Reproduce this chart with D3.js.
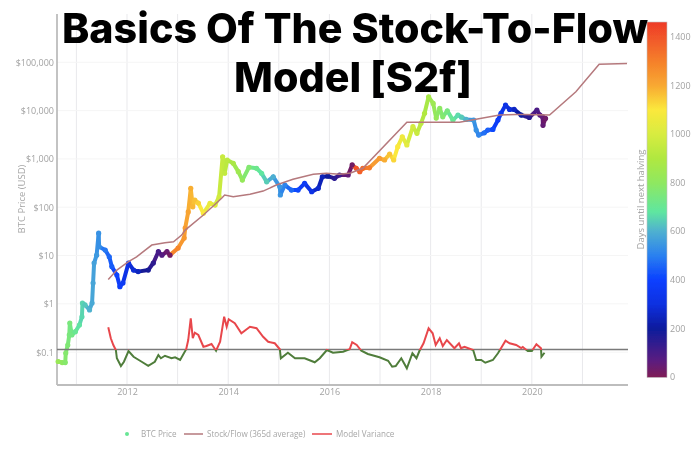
<!DOCTYPE html>
<html><head><meta charset="utf-8">
<script src="https://cdnjs.cloudflare.com/ajax/libs/d3/7.8.5/d3.min.js"></script>
<style>html,body{margin:0;padding:0;background:#fff}svg{display:block}</style>
</head><body><svg id="c" width="700" height="450"></svg>
<script>
const titleLines = ["Basics Of The Stock-To-Flow", "Model [S2f]"];
const yearTicks = [2012, 2014, 2016, 2018, 2020];
const gridYears = [2011, 2012, 2013, 2014, 2015, 2016, 2017, 2018, 2019, 2020, 2021];
const priceTicks = [0.1, 1, 10, 100, 1000, 10000, 100000];
const colorTicks = [0, 200, 400, 600, 800, 1000, 1200, 1400];
const halvingYears = [2012.91, 2016.52, 2020.36];
const legendLabels = ["BTC Price", "Stock/Flow (365d average)", "Model Variance"];

const btcYears = [2010.64,2010.72,2010.78,2010.79,2010.83,2010.86,2010.87,2010.91,2010.98,2011.06,2011.11,2011.12,2011.17,2011.26,2011.31,2011.33,2011.35,2011.40,2011.44,2011.45,2011.57,2011.65,2011.70,2011.80,2011.86,2011.92,2012.03,2012.13,2012.22,2012.42,2012.52,2012.62,2012.69,2012.79,2012.85,2013.01,2013.13,2013.15,2013.21,2013.26,2013.30,2013.34,2013.41,2013.51,2013.64,2013.74,2013.82,2013.89,2013.93,2013.98,2014.10,2014.20,2014.28,2014.41,2014.56,2014.66,2014.76,2014.89,2015.02,2015.03,2015.12,2015.25,2015.38,2015.51,2015.65,2015.78,2015.86,2015.97,2016.10,2016.20,2016.37,2016.45,2016.53,2016.60,2016.66,2016.79,2016.99,2017.09,2017.19,2017.27,2017.35,2017.44,2017.53,2017.65,2017.73,2017.81,2017.88,2017.96,2018.05,2018.11,2018.18,2018.24,2018.33,2018.44,2018.54,2018.61,2018.70,2018.85,2018.90,2018.95,2019.06,2019.13,2019.23,2019.33,2019.39,2019.48,2019.56,2019.65,2019.79,2019.95,2020.10,2020.16,2020.21,2020.22,2020.27];
const btcPrices = [0.064,0.061,0.061,0.096,0.14,0.227,0.40,0.227,0.265,0.365,0.54,1.04,0.95,0.75,1.04,2.7,7.0,10.2,29,15.2,13,9.4,5.9,3.96,2.27,2.7,7.0,5.0,4.65,5.0,7.0,12,10.2,12,10.2,14.3,23,37,80,246,102,141,122,75,120,111,165,1110,505,950,810,545,365,670,640,505,335,428,265,179,288,227,227,312,209,246,428,440,396,465,465,750,640,545,640,655,1030,950,1260,950,1790,2880,1940,4650,3380,5460,8800,19300,14100,7000,11100,7440,9900,6360,8070,7330,6570,6360,3950,3110,3470,3950,4080,6360,8770,13000,10600,10600,8070,7200,10200,8070,7500,4950,6900];

const s2fYears = [2011.63,2011.80,2012.03,2012.19,2012.36,2012.49,2012.75,2012.92,2013.08,2013.15,2013.51,2013.87,2013.93,2014.10,2014.43,2014.69,2014.95,2015.28,2015.68,2015.94,2016.20,2016.42,2016.66,2017.53,2018.57,2018.87,2019.36,2019.69,2020.35,2020.87,2021.33,2021.88];
const s2fValues = [3.2,5.0,7.5,9.4,13,16.5,18.4,19.3,26.5,33.7,69,153,179,165,185,216,288,378,480,505,480,510,640,5730,5730,6570,8070,8350,8070,24500,91000,94000];

const varYears = [2011.63,2011.68,2011.73,2011.78,2011.80,2011.88,2011.94,2012.03,2012.13,2012.29,2012.42,2012.55,2012.62,2012.67,2012.75,2012.88,2012.95,2013.05,2013.17,2013.21,2013.26,2013.30,2013.34,2013.41,2013.51,2013.57,2013.67,2013.76,2013.84,2013.92,2013.97,2014.01,2014.13,2014.26,2014.43,2014.56,2014.69,2014.79,2014.92,2015.02,2015.04,2015.18,2015.32,2015.51,2015.71,2015.81,2015.95,2016.07,2016.27,2016.40,2016.45,2016.54,2016.63,2016.76,2016.99,2017.16,2017.24,2017.31,2017.42,2017.53,2017.64,2017.72,2017.78,2017.86,2017.96,2018.04,2018.10,2018.18,2018.24,2018.32,2018.47,2018.56,2018.60,2018.67,2018.84,2018.90,2019.00,2019.08,2019.23,2019.33,2019.39,2019.48,2019.56,2019.69,2019.79,2019.82,2019.92,2020.00,2020.09,2020.18,2020.19,2020.25];
const varValues = [.89,.45,.18,-.02,-.35,-.66,-.49,-.06,-.29,-.49,-.65,-.49,-.22,-.35,-.25,-.35,-.31,-.42,.01,.38,1.25,.45,.67,.58,.11,.14,.22,-.05,.31,1.31,.91,1.21,1.05,.65,.91,.85,.51,.31,.25,.01,-.35,-.13,-.35,-.35,-.51,-.35,-.02,-.13,-.09,.01,.29,.18,-.05,-.18,-.31,-.45,-.69,-.66,-.35,-.75,-.15,-.35,-.05,.25,.85,.65,.18,.45,.14,.38,.05,.25,.05,.11,-.02,-.42,-.42,-.53,-.42,-.15,.05,.35,.25,.18,.06,.1,-.06,-.06,.21,.05,-.29,-.13];

const colorDays = [0,70,200,300,400,500,600,680,800,900,1000,1100,1200,1300,1460];
const colorHex = ["#7f1a55","#5a1a80","#0d1a9c","#0b30e0","#0a40ff","#2a80f0","#4fb0d0","#5fe6a0","#8fe860","#b0e840","#d8ec40","#fbe83c","#f8a832","#f57f2a","#ee3a28"];

const svg = d3.select("#c");
const L = 57, R = 628, T = 14, B = 385;
const x = d3.scaleLinear().domain([2010.617, 2021.9]).range([L, R]);
const y = d3.scaleLog().domain([0.0209, 1000000]).range([B, T]);
const yVar = d3.scaleLinear().domain([-1.42, 13.42]).range([B, T]);
const color = d3.scaleLinear().domain(colorDays).range(colorHex);
const cbar = d3.scaleLinear().domain([0, 1460]).range([377.5, 22]);
const daysUntil = yr => (halvingYears.find(h => h >= yr) - yr) * 365.25;

const defs = svg.append("defs");
defs.append("filter").attr("id", "soft").append("feGaussianBlur").attr("stdDeviation", 0.55);
const vg = defs.append("linearGradient").attr("id", "varGrad").attr("gradientUnits", "userSpaceOnUse")
  .attr("x1", 0).attr("x2", 0).attr("y1", T).attr("y2", B);
const zf = (yVar(0) - T) / (B - T);
[[0,"#e8474c"],[zf,"#e8474c"],[zf,"#4f7d3a"],[1,"#4f7d3a"]].forEach(s => vg.append("stop").attr("offset", s[0]).attr("stop-color", s[1]));
const cg = defs.append("linearGradient").attr("id", "barGrad").attr("x1", 0).attr("x2", 0).attr("y1", 1).attr("y2", 0);
colorDays.forEach((d, i) => cg.append("stop").attr("offset", d / 1460).attr("stop-color", colorHex[i]));

const g = svg.append("g").attr("filter", "url(#soft)");

// grid
g.append("g").selectAll("line").data(gridYears).join("line")
  .attr("x1", d => x(d)).attr("x2", d => x(d)).attr("y1", T).attr("y2", B)
  .attr("stroke", "#e9e9ec").attr("stroke-width", 1);
g.append("g").selectAll("line").data(priceTicks).join("line")
  .attr("x1", L).attr("x2", R).attr("y1", d => y(d)).attr("y2", d => y(d))
  .attr("stroke", "#f5f5f5").attr("stroke-width", 1);

// axes
const yAxis = g.append("g").attr("transform", `translate(${L},0)`)
  .call(d3.axisLeft(y).tickValues(priceTicks).tickFormat(d3.format("$,")).tickSize(0).tickPadding(3));
const xAxis = g.append("g").attr("transform", `translate(0,${B})`)
  .call(d3.axisBottom(x).tickValues(yearTicks).tickFormat(d3.format("d")).tickSize(0).tickPadding(4));
[yAxis, xAxis].forEach(a => {
  a.select(".domain").remove();
  a.selectAll("text").attr("fill", "#a2a2a2").style("font-family", "'Open Sans'").style("font-size", "9px");
});
g.append("line").attr("x1", L).attr("x2", L).attr("y1", T).attr("y2", B).attr("stroke", "#bdbdbd").attr("stroke-width", 1.8);
g.append("line").attr("x1", L).attr("x2", R).attr("y1", B).attr("y2", B).attr("stroke", "#bdbdbd").attr("stroke-width", 1.8);
g.append("text").attr("transform", "translate(25,199) rotate(-90)").attr("text-anchor", "middle")
  .attr("fill", "#a6a6a6").style("font-family", "'Open Sans'").style("font-size", "9.5px").text("BTC Price (USD)");

// BTC price
const btc = btcYears.map((yr, i) => ({yr, p: btcPrices[i], c: color(daysUntil(yr))}));
g.append("g").selectAll("line").data(d3.pairs(btc)).join("line")
  .attr("x1", d => x(d[0].yr)).attr("y1", d => y(d[0].p))
  .attr("x2", d => x(d[1].yr)).attr("y2", d => y(d[1].p))
  .attr("stroke", d => d[1].c).attr("stroke-width", 4).attr("stroke-linecap", "round");
g.append("g").selectAll("circle").data(btc).join("circle")
  .attr("cx", d => x(d.yr)).attr("cy", d => y(d.p)).attr("r", 2.6).attr("fill", d => d.c);

// stock/flow
g.append("path").datum(s2fYears.map((yr, i) => [x(yr), y(s2fValues[i])]))
  .attr("d", d3.line()).attr("fill", "none").attr("stroke", "#b5797d").attr("stroke-width", 1.5);

// zero line and variance
g.append("line").attr("x1", L).attr("x2", R).attr("y1", yVar(0)).attr("y2", yVar(0)).attr("stroke", "#7a7a7a").attr("stroke-width", 1.4);
g.append("path").datum(varYears.map((yr, i) => [x(yr), yVar(varValues[i])]))
  .attr("d", d3.line()).attr("fill", "none").attr("stroke", "url(#varGrad)").attr("stroke-width", 2);

// colour bar
g.append("rect").attr("x", 647).attr("y", cbar(1460)).attr("width", 20).attr("height", cbar(0) - cbar(1460))
  .attr("fill", "url(#barGrad)").attr("stroke", "#c4c4c4").attr("stroke-width", 0.6);
const cAxis = g.append("g").attr("transform", "translate(667,0)")
  .call(d3.axisRight(cbar.copy().domain([0, 1400]).range([377, 36.5])).tickValues(colorTicks).tickFormat(d3.format("d")).tickSize(0).tickPadding(3));
cAxis.select(".domain").remove();
cAxis.selectAll("text").attr("fill", "#a2a2a2").style("font-family", "'Open Sans'").style("font-size", "9px");
g.append("text").attr("transform", "translate(644,199.5) rotate(-90)").attr("text-anchor", "middle")
  .attr("fill", "#a2a2a2").style("font-family", "'Open Sans'").style("font-size", "9.5px").text("Days until next halving");

// legend
const lg = g.append("g").style("font-family", "'Open Sans'").style("font-size", "8.1px").attr("fill", "#a6a6a6");
lg.append("circle").attr("cx", 127).attr("cy", 434).attr("r", 2).attr("fill", color(700));
lg.append("line").attr("x1", 184).attr("x2", 203).attr("y1", 434).attr("y2", 434).attr("stroke", "#b5797d").attr("stroke-width", 1.5);
lg.append("line").attr("x1", 312).attr("x2", 332).attr("y1", 434).attr("y2", 434).attr("stroke", "#e8474c").attr("stroke-width", 1.5);
lg.selectAll("text").data(legendLabels).join("text")
  .attr("x", (d, i) => [141, 207, 336][i]).attr("y", 437).text(d => d);

// title
svg.append("g").selectAll("text").data(titleLines).join("text")
  .attr("x", (d, i) => [355, 353][i]).attr("y", (d, i) => [43, 92][i]).attr("text-anchor", "middle")
  .attr("fill", "#000").style("font-family", "Inter").style("font-weight", 800).style("font-size", "41.2px").text(d => d);
</script></body></html>
